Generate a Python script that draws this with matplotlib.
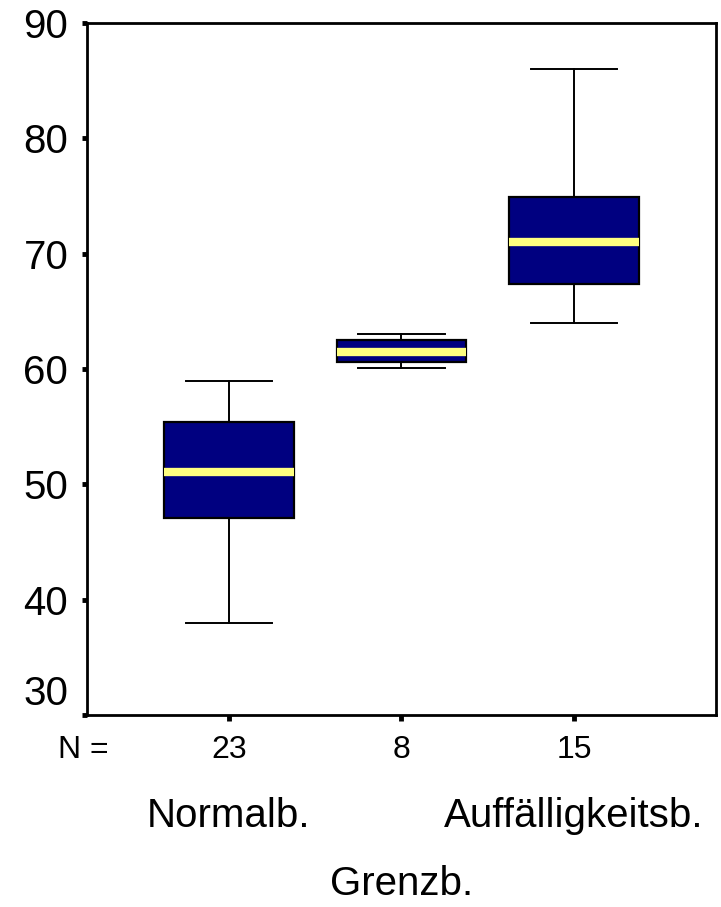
import matplotlib
matplotlib.use('Agg')
import matplotlib.pyplot as plt
from matplotlib.transforms import blended_transform_factory

plt.rcParams['font.family'] = ['Liberation Sans', 'DejaVu Sans']

# group summary values
groups = ['Normalb.', 'Grenzb.', 'Auffälligkeitsb.']
counts = [23, 8, 15]
whis_lo = [38.0, 60.1, 64.0]
q1 = [47.1, 60.6, 67.4]
median = [51.1, 61.5, 71.0]
q3 = [55.4, 62.5, 74.9]
whis_hi = [59.0, 63.0, 86.0]
yticks = [30, 40, 50, 60, 70, 80, 90]

stats = []
for i in range(len(groups)):
    stats.append(dict(label=groups[i], whislo=whis_lo[i], q1=q1[i], med=median[i],
                      q3=q3[i], whishi=whis_hi[i], fliers=[]))

W, H = 721, 907
fig = plt.figure(figsize=(W / 100, H / 100), dpi=100)
ax = fig.add_axes([87 / W, 1 - 715 / H, (716 - 87) / W, (715 - 23) / H])

positions = [1, 2, 3]
ax.bxp(stats, positions=positions, widths=0.75, patch_artist=True, showfliers=False,
       boxprops=dict(facecolor='#000080', edgecolor='black', linewidth=1.6),
       medianprops=dict(color='#ffff80', linewidth=6, solid_capstyle='butt'),
       whiskerprops=dict(color='black', linewidth=1.4),
       capprops=dict(color='black', linewidth=1.4),
       capwidths=0.5)

ax.set_xlim(0.177, 3.823)
ax.set_ylim(30, 90)
ax.set_yticks(yticks)
# lowest label sits a bit above its tick, so it is drawn by hand
ax.set_yticklabels([''] + [str(t) for t in yticks[1:]])
ax.set_xticks(positions)
ax.set_xticklabels([])
ax.tick_params(axis='y', direction='out', length=3.5, width=3.5, labelsize=29, pad=10)
ax.tick_params(axis='x', direction='out', length=4.5, width=3.5, pad=0)
for sp in ax.spines.values():
    sp.set_linewidth(2.0)

ytr = blended_transform_factory(ax.transAxes, ax.transData)
ax.text(-19 / 629, yticks[0] + 1.8, str(yticks[0]), transform=ytr, fontsize=29,
        ha='right', va='center')

tr = blended_transform_factory(ax.transData, fig.transFigure)
fig.text(83 / W, 1 - 750 / H, 'N =', fontsize=23, ha='center', va='center')
for p, n in zip(positions, counts):
    ax.text(p, 1 - 750 / H, str(n), transform=tr, fontsize=23, ha='center', va='center')

# staggered group labels, like the original layout
label_y = [816, 884, 816]
for p, g, yy in zip(positions, groups, label_y):
    ax.text(p, 1 - yy / H, g, transform=tr, fontsize=29, ha='center', va='center')

fig.savefig('out.png', dpi=100)
